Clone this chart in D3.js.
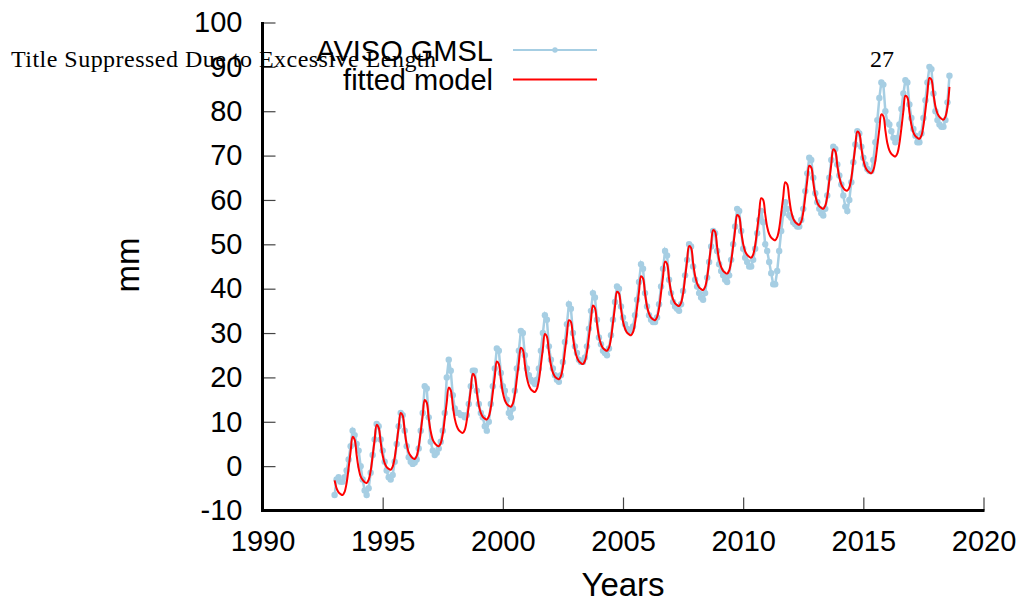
<!DOCTYPE html>
<html>
  <head>
    <meta charset="utf-8">
    <script src="https://d3js.org/d3.v7.min.js"></script>
    <style>
      body { margin: 0; background: #fff; }
      svg { display: block; }
      .tick text { font-family: "Liberation Sans", Arial, sans-serif; font-size: 29px; fill: #000; }
      .tick line { stroke: #444; stroke-width: 1.2; }
    </style>
  </head>
  <body>
    <svg width="1029" height="614"></svg>
    <script>

    // monthly samples, first one at startYear, one per month after that
    var startYear = 1993;
    var stepYears = 1 / 12;

    // AVISO GMSL (mm), one row per year
    var gmsl = [
      -6.5,-3.0,-2.5,-3.5,-3.5,-2.5,-1.0,1.5,4.5,8.0,7.0,5.0,
      3.5,0.0,-3.0,-5.5,-6.5,-5.0,-1.5,2.5,6.0,9.5,9.0,6.0,
      3.5,1.0,-1.0,-2.5,-3.0,-2.0,1.0,5.0,9.0,12.0,11.5,8.0,
      4.5,2.0,1.0,0.5,0.8,1.5,4.0,8.0,12.0,18.0,17.5,11.0,
      5.5,3.5,2.5,3.0,4.0,5.5,8.0,12.0,20.0,24.0,21.5,16.0,
      13.0,12.0,12.0,11.5,11.5,11.0,11.5,14.0,18.0,21.5,21.5,17.0,
      14.0,12.0,11.0,9.0,8.0,10.0,14.0,18.0,22.0,26.5,26.0,21.0,
      18.0,17.0,15.0,12.0,11.0,13.0,17.0,22.0,26.0,30.5,30.0,25.0,
      22.0,20.5,19.5,19.0,18.5,19.5,22.0,26.0,30.0,34.0,33.0,27.0,
      24.0,22.0,20.5,19.5,19.0,20.5,23.5,28.0,32.0,36.5,35.5,30.0,
      27.0,25.5,24.0,23.5,23.5,24.5,27.0,31.0,35.0,39.0,38.0,33.0,
      29.0,27.5,26.0,25.5,25.0,26.5,29.5,33.0,37.0,40.5,40.0,36.0,
      33.5,32.0,31.0,30.5,30.5,31.5,34.0,37.5,41.5,45.5,44.5,39.0,
      36.0,34.0,33.0,32.5,32.5,33.5,36.5,40.5,44.5,48.5,47.5,42.0,
      39.0,37.0,36.0,35.5,35.0,36.5,39.5,43.0,46.5,50.0,49.5,45.0,
      42.0,40.5,39.0,38.0,37.5,39.0,42.5,46.0,49.5,53.0,52.5,48.5,
      45.5,44.0,43.0,42.0,41.5,43.0,46.5,50.0,54.0,58.0,57.5,53.0,
      49.0,47.0,46.0,45.0,45.0,46.5,49.0,52.5,55.5,57.5,55.0,50.0,
      48.5,46.0,43.5,41.0,41.0,44.0,48.5,53.0,57.0,59.5,58.0,56.5,
      56.0,55.0,54.5,54.0,54.0,55.5,58.0,62.0,66.0,69.5,69.0,65.0,
      61.5,59.5,58.0,57.0,56.5,58.0,61.0,65.0,69.0,72.0,71.5,68.0,
      65.5,63.5,61.0,58.5,57.5,60.0,64.0,68.5,72.5,75.5,75.0,72.0,
      69.5,68.0,67.0,66.5,66.5,69.0,73.0,78.0,83.0,86.5,86.0,80.0,
      77.5,77.0,75.5,74.0,73.0,74.0,77.0,80.5,84.0,87.0,86.5,81.5,
      78.5,76.0,74.5,73.0,73.0,75.0,78.5,82.5,86.5,90.0,89.5,84.0,
      80.0,78.0,77.0,76.5,76.5,78.0,82.0,88.0
    ];

    // fitted model (mm), same monthly times
    var fitted = [
      -3.2,-5.0,-5.9,-6.3,-6.5,-5.8,-3.8,-0.4,3.3,6.6,6.0,2.5,
      -0.5,-2.3,-3.1,-3.6,-3.8,-3.1,-1.1,2.3,6.0,9.3,8.7,5.4,
      2.4,0.7,-0.2,-0.6,-0.8,-0.1,1.9,5.2,8.8,12.0,11.4,7.9,
      4.9,3.1,2.3,1.8,1.6,2.3,4.4,7.8,11.5,14.9,14.3,10.8,
      7.8,6.0,5.2,4.7,4.5,5.2,7.2,10.7,14.4,17.7,17.1,13.7,
      10.7,9.0,8.1,7.7,7.5,8.2,10.3,13.7,17.4,20.8,20.2,16.8,
      13.7,12.0,11.1,10.7,10.5,11.2,13.2,16.6,20.3,23.6,23.0,19.6,
      16.6,14.9,14.0,13.6,13.4,14.1,16.2,19.7,23.4,26.7,26.2,22.9,
      19.9,18.2,17.3,16.9,16.7,17.4,19.4,22.8,26.5,29.8,29.2,25.8,
      22.8,21.1,20.2,19.8,19.6,20.3,22.4,25.9,29.6,32.9,32.5,29.1,
      26.2,24.5,23.6,23.2,23.0,23.7,25.7,29.2,32.9,36.2,35.6,32.2,
      29.2,27.5,26.6,26.2,26.0,26.7,28.8,32.3,36.0,39.3,38.9,35.5,
      32.6,31.0,30.1,29.7,29.5,30.2,32.3,35.7,39.4,42.8,42.3,38.9,
      36.0,34.4,33.5,33.1,32.9,33.6,35.6,39.1,42.8,46.1,45.6,42.2,
      39.3,37.6,36.7,36.3,36.1,36.8,38.9,42.5,46.3,49.6,49.2,45.8,
      42.9,41.2,40.3,39.9,39.7,40.4,42.5,46.0,49.9,53.2,52.8,49.4,
      46.5,44.9,44.0,43.6,43.4,44.1,46.2,49.6,53.3,56.6,56.2,52.9,
      50.1,48.4,47.6,47.2,47.0,47.7,49.8,53.3,57.1,60.4,60.0,56.8,
      53.9,52.3,51.5,51.1,50.9,51.6,53.6,57.0,60.7,64.0,63.5,60.3,
      57.4,55.8,55.0,54.6,54.4,55.1,57.2,60.7,64.4,67.7,67.3,64.0,
      61.1,59.4,58.6,58.2,58.0,58.7,60.8,64.3,68.1,71.4,71.0,67.8,
      65.1,63.5,62.7,62.2,62.1,62.8,64.9,68.4,72.1,75.4,75.0,71.8,
      69.0,67.4,66.6,66.2,66.0,66.7,68.8,72.3,76.0,79.3,78.9,75.7,
      72.8,71.2,70.4,70.0,69.8,70.5,72.7,76.2,80.1,83.5,83.1,79.8,
      76.9,75.2,74.4,74.0,73.8,74.5,76.7,80.2,84.1,87.5,87.1,83.9,
      81.1,79.5,78.7,78.3,78.1,78.8,80.9,85.5
    ];

    var xTicks = [1990, 1995, 2000, 2005, 2010, 2015, 2020];
    var yTicks = [-10, 0, 10, 20, 30, 40, 50, 60, 70, 80, 90, 100];
    var seriesNames = ["AVISO GMSL", "fitted model"];
    var seriesColors = ["#a6cee3", "#ff0000"];

    var svg = d3.select("svg");
    var font = '"Liberation Sans", Arial, sans-serif';
    var serif = '"Liberation Serif", "Times New Roman", serif';

    // scales
    var x = d3.scaleLinear().domain([1990, 2020]).range([262.5, 983.5]);
    var y = d3.scaleLinear().domain([-10, 100]).range([510.5, 22.5]);

    function t(i) { return startYear + i * stepYears; }
    function plain(d) { return String(d); } // keep ascii hyphen for "-10"

    // data series: line + points
    var plot = svg.append("g");
    var line = d3.line()
      .x(function(d, i) { return x(t(i)); })
      .y(function(d) { return y(d); });

    plot.append("path")
      .datum(gmsl)
      .attr("fill", "none")
      .attr("stroke", seriesColors[0])
      .attr("stroke-width", 2.5)
      .attr("d", line);

    plot.selectAll("circle.pt")
      .data(gmsl)
      .enter()
      .append("circle")
      .attr("class", "pt")
      .attr("cx", function(d, i) { return x(t(i)); })
      .attr("cy", function(d) { return y(d); })
      .attr("r", 3.2)
      .attr("fill", seriesColors[0]);

    // fitted model on top
    plot.append("path")
      .datum(fitted)
      .attr("fill", "none")
      .attr("stroke", seriesColors[1])
      .attr("stroke-width", 2)
      .attr("d", line.curve(d3.curveCatmullRom));

    // axes (ticks point inward, no border on top/right)
    var gx = svg.append("g")
      .attr("transform", "translate(0," + y(-10) + ")")
      .call(d3.axisBottom(x).tickValues(xTicks).tickFormat(plain)
        .tickSizeInner(-13).tickSizeOuter(0).tickPadding(20));
    gx.select(".domain").remove();

    var gy = svg.append("g")
      .attr("transform", "translate(" + x(1990) + ",0)")
      .call(d3.axisLeft(y).tickValues(yTicks).tickFormat(plain)
        .tickSizeInner(-13).tickSizeOuter(0).tickPadding(20));
    gy.select(".domain").remove();
    gy.selectAll(".tick text").attr("x", -20);
    gx.selectAll(".tick text").attr("y", 20);

    // thick axis lines
    svg.append("line")
      .attr("x1", x(1990)).attr("x2", x(1990))
      .attr("y1", y(100) - 0.5).attr("y2", y(-10) + 1.5)
      .attr("stroke", "#000").attr("stroke-width", 3);
    svg.append("line")
      .attr("x1", x(1990) - 1.5).attr("x2", x(2020) + 1)
      .attr("y1", y(-10)).attr("y2", y(-10))
      .attr("stroke", "#000").attr("stroke-width", 3);

    // axis titles
    svg.append("text")
      .attr("x", 623).attr("y", 596)
      .attr("text-anchor", "middle")
      .style("font-family", font).style("font-size", "33px")
      .text("Years");

    svg.append("text")
      .attr("transform", "translate(139,265) rotate(-90)")
      .attr("text-anchor", "middle")
      .style("font-family", font).style("font-size", "33px")
      .text("mm");

    // legend
    var legend = svg.append("g");
    seriesNames.forEach(function(name, i) {
      var ly = 50 + i * 29.5;
      legend.append("text")
        .attr("x", 493).attr("y", ly + 10.5)
        .attr("text-anchor", "end")
        .style("font-family", font).style("font-size", "29px")
        .text(name);
      legend.append("line")
        .attr("x1", 513).attr("x2", 597)
        .attr("y1", ly).attr("y2", ly)
        .attr("stroke", seriesColors[i]).attr("stroke-width", 2);
      if (i === 0) {
        legend.append("circle")
          .attr("cx", 555).attr("cy", ly).attr("r", 2.7)
          .attr("fill", seriesColors[i]);
      }
    });

    // overlaid title and page number
    svg.append("text")
      .attr("x", 11).attr("y", 66.5)
      .style("font-family", serif).style("font-size", "24px")
      .attr("textLength", 425)
      .text("Title Suppressed Due to Excessive Length");

    svg.append("text")
      .attr("x", 882).attr("y", 66.5)
      .attr("text-anchor", "middle")
      .style("font-family", serif).style("font-size", "24px")
      .text("27");

    </script>
  </body>
</html>
